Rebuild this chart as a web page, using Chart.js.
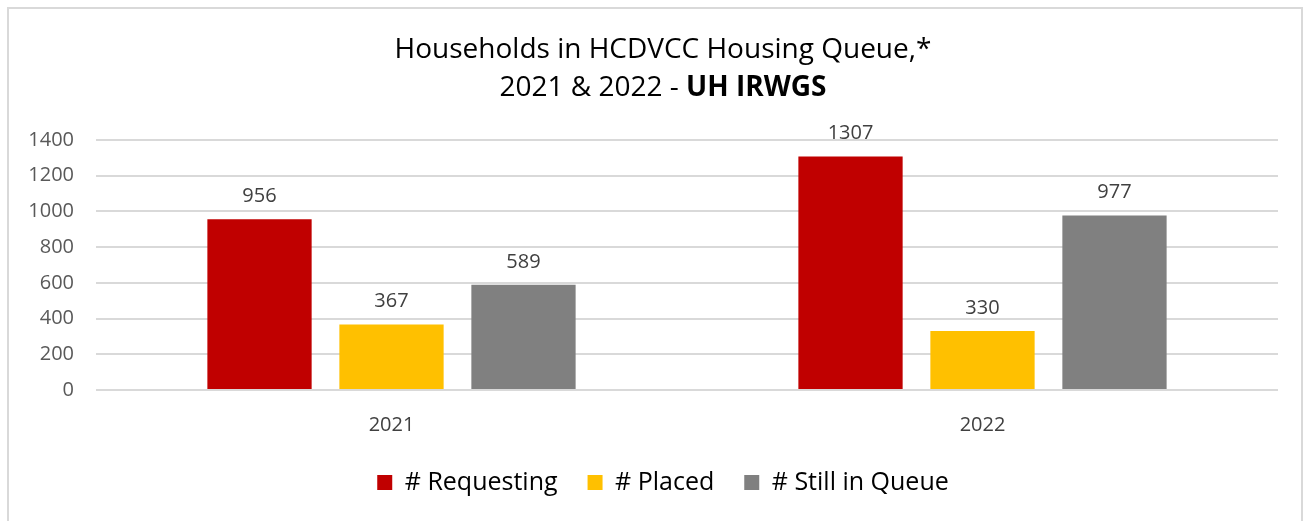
<!DOCTYPE html>
<html>
<head>
<meta charset="utf-8">
<script src="https://cdn.jsdelivr.net/npm/chart.js@4"></script>
<style>
  body { margin: 0; background: #fff; }
  #wrap { position: absolute; left: 0; top: 0; width: 1309px; height: 521px; }
  #frame { position: absolute; left: 7px; top: 7px; width: 1296px; height: 530px; border: 2px solid #d9d9d9; box-sizing: border-box; }
</style>
</head>
<body>
<div id="wrap">
  <div id="frame"></div>
  <canvas id="chart-queue" width="1309" height="521"></canvas>
</div>
<script>
// data
const years = ['2021', '2022'];
const requesting = [956, 1307];
const placed = [367, 330];
const stillInQueue = [589, 977];
const seriesNames = ['# Requesting', '# Placed', '# Still in Queue'];
const yTicks = [0, 200, 400, 600, 800, 1000, 1200, 1400];

const FONT = "'Open Sans', sans-serif";

// title with a bold tail on the second line
const titlePlugin = {
    id: 'splitTitle',
    afterDraw(chart) {
        const c = chart.ctx;
        const cx = 663;
        c.save();
        c.fillStyle = '#000';
        c.textBaseline = 'middle';
        c.textAlign = 'center';
        c.font = "28px " + FONT;
        c.fillText('Households in HCDVCC Housing Queue,*', cx, 50);
        const a = '2021 & 2022 - ';
        const b = 'UH IRWGS';
        c.font = "28px " + FONT;
        const wa = c.measureText(a).width;
        c.font = "bold 28px " + FONT;
        const wb = c.measureText(b).width;
        const x0 = cx - (wa + wb) / 2;
        c.textAlign = 'left';
        c.font = "28px " + FONT;
        c.fillText(a, x0, 88);
        c.font = "bold 28px " + FONT;
        c.fillText(b, x0 + wa, 88);
        c.restore();
    }
};

// value labels above each bar
const valueLabels = {
    id: 'valueLabels',
    afterDatasetsDraw(chart) {
        const c = chart.ctx;
        c.save();
        c.fillStyle = '#404040';
        c.font = "20px " + FONT;
        c.textAlign = 'center';
        c.textBaseline = 'middle';
        chart.data.datasets.forEach((ds, i) => {
            chart.getDatasetMeta(i).data.forEach((bar, j) => {
                c.fillText(ds.data[j], bar.x, bar.y - 23);
            });
        });
        c.restore();
    }
};

// the legend sits centred on the whole frame, not on the padded box
const legendShift = {
    id: 'legendShift',
    afterLayout(chart) {
        chart.legend.left += 20;
        chart.legend.right += 20;
    }
};

const ctx = document.getElementById('chart-queue').getContext('2d');
const chart_queue = new Chart(ctx, {
    type: 'bar',
    data: {
        labels: years,
        datasets: [
            { label: seriesNames[0], data: requesting, backgroundColor: '#c00000' },
            { label: seriesNames[1], data: placed, backgroundColor: '#ffc000' },
            { label: seriesNames[2], data: stillInQueue, backgroundColor: '#808080' }
        ]
    },
    options: {
        responsive: false,
        animation: false,
        datasets: {
            bar: {
                categoryPercentage: 0.67,
                barPercentage: 0.79
            }
        },
        layout: {
            padding: { top: 140, left: 8, right: 31, bottom: 16 }
        },
        scales: {
            y: {
                min: 0,
                max: 1400,
                afterBuildTicks: function (scale) {
                    scale.ticks = yTicks.map(v => ({ value: v }));
                },
                afterFit: function (scale) {
                    scale.width = 88;
                },
                grid: { color: '#d9d9d9', lineWidth: 2, drawTicks: false },
                border: { display: false },
                ticks: {
                    color: '#595959',
                    font: { family: FONT, size: 20 },
                    padding: 22,
                    callback: function (value) {
                        return String(value);
                    }
                }
            },
            x: {
                afterFit: function (scale) {
                    scale.height = 50;
                },
                grid: { display: false },
                border: { display: false },
                ticks: {
                    color: '#404040',
                    font: { family: FONT, size: 20 },
                    padding: 15
                }
            }
        },
        plugins: {
            legend: {
                position: 'bottom',
                labels: {
                    boxWidth: 15,
                    boxHeight: 15,
                    padding: 30,
                    color: '#000',
                    font: { family: FONT, size: 25 }
                }
            },
            tooltip: { enabled: false }
        }
    },
    plugins: [titlePlugin, valueLabels, legendShift]
});
</script>
</body>
</html>
